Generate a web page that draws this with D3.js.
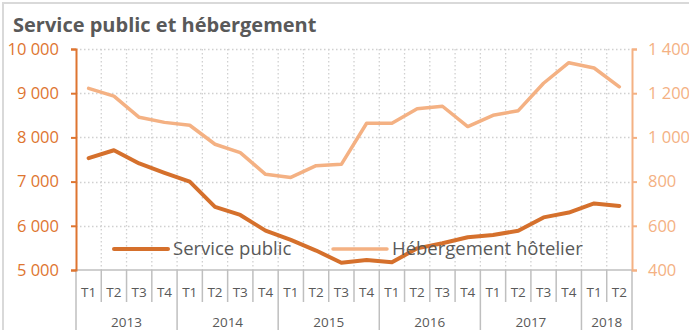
<!DOCTYPE html>
<html>
<head>
<meta charset="utf-8">
<script src="https://cdn.jsdelivr.net/npm/d3@7"></script>
<style>
  html, body { margin: 0; padding: 0; background: #fff; }
  svg { display: block; font-family: "Open Sans", "Noto Sans", sans-serif; }
</style>
</head>
<body>
<svg id="chart" width="689" height="330"></svg>
<script>
// Quarterly series, 2013 T1 to 2018 T2
const years = ["2013", "2014", "2015", "2016", "2017", "2018"];
const quarters = ["T1", "T2", "T3", "T4"];
const periods = years.flatMap(y => quarters.map(q => y + "-" + q)).slice(0, 22);

const servicePublic = [7530, 7710, 7410, 7200, 7000, 6430, 6245, 5890,
                       5680, 5440, 5165, 5225, 5175, 5490, 5605, 5740,
                       5790, 5890, 6190, 6300, 6505, 6450];
const hebergement = [1222, 1187, 1091, 1068, 1055, 969, 931, 833,
                     819, 872, 878, 1064, 1064, 1130, 1141, 1049,
                     1100, 1121, 1245, 1338, 1314, 1229];

const leftTicks = [5000, 6000, 7000, 8000, 9000, 10000];
const rightTicks = [400, 600, 800, 1000, 1200, 1400];
const seriesNames = ["Service public", "Hébergement hôtelier"];
const title = "Service public et hébergement";

// French-style thousands separator
const fmt = v => d3.format(",")(v).replace(/,/g, " ");

const colDark = "#D5702C";
const colLight = "#F4B183";
const colAxisL = "#DE7530";
const colGrid = "#D0D0D0";
const colText = "#595959";

const svg = d3.select("#chart");
const L = 76, R = 632, T = 49, B = 270;

const x = d3.scaleBand().domain(periods).range([L, R]).padding(0);
const yL = d3.scaleLinear().domain([5000, 10000]).range([B, T]);
const yR = d3.scaleLinear().domain([400, 1400]).range([B, T]);

// chart frame (top and left edges)
svg.append("path")
  .attr("d", `M3,${330} V3 H689`)
  .attr("fill", "none").attr("stroke", "#D9D9D9").attr("stroke-width", 2);

// title
svg.append("text")
  .attr("x", 13).attr("y", 32)
  .attr("font-size", 20).attr("font-weight", 700)
  .attr("fill", colText)
  .text(title);

// horizontal dotted grid
svg.append("g").selectAll("line")
  .data(leftTicks.filter(d => d > 5000))
  .join("line")
  .attr("x1", L).attr("x2", R)
  .attr("y1", d => Math.round(yL(d)) + 0.5).attr("y2", d => Math.round(yL(d)) + 0.5)
  .attr("stroke", colGrid).attr("stroke-width", 1.3).attr("stroke-dasharray", "1.5,2.5");

// vertical dotted grid at quarter boundaries
const bounds = d3.range(1, periods.length).map(i => x(periods[i]));
svg.append("g").selectAll("line")
  .data(bounds)
  .join("line")
  .attr("x1", d => d).attr("x2", d => d)
  .attr("y1", T).attr("y2", B)
  .attr("stroke", colGrid).attr("stroke-width", 1.3).attr("stroke-dasharray", "1.5,2.5");

// category axis: quarter row and year row
const allBounds = d3.range(0, periods.length + 1).map(i => i < periods.length ? x(periods[i]) : R);
const xAxis = svg.append("g");
xAxis.selectAll("line.q")
  .data(allBounds)
  .join("line")
  .attr("class", "q")
  .attr("x1", d => d).attr("x2", d => d)
  .attr("y1", B).attr("y2", (d, i) => (i % 4 === 0 || i === periods.length) ? 330 : 302)
  .attr("stroke", "#BFBFBF").attr("stroke-width", 1.5);
xAxis.append("line")
  .attr("x1", L - 1).attr("x2", R).attr("y1", B).attr("y2", B)
  .attr("stroke", "#BFBFBF").attr("stroke-width", 1.5);
xAxis.selectAll("text.q")
  .data(periods)
  .join("text")
  .attr("class", "q")
  .attr("x", d => x(d) + x.bandwidth() / 2)
  .attr("y", 297)
  .attr("text-anchor", "middle")
  .attr("font-size", 13.5).attr("fill", colText)
  .text(d => d.split("-")[1]);
xAxis.selectAll("text.y")
  .data(years)
  .join("text")
  .attr("class", "y")
  .attr("x", yr => {
    const ps = periods.filter(p => p.startsWith(yr));
    const a = x(ps[0]), b = x(ps[ps.length - 1]) + x.bandwidth();
    return (a + b) / 2;
  })
  .attr("y", 327)
  .attr("text-anchor", "middle")
  .attr("font-size", 13.5).attr("fill", colText)
  .text(d => d);

// left value axis
const axL = svg.append("g").attr("transform", `translate(${L},0)`)
  .call(d3.axisLeft(yL).tickValues(leftTicks).tickSize(5).tickPadding(12).tickFormat(fmt));
axL.select(".domain").attr("stroke", colAxisL).attr("stroke-width", 2);
axL.selectAll(".tick line").attr("stroke", colAxisL).attr("stroke-width", 2);
axL.selectAll(".tick text").attr("fill", colAxisL).attr("font-size", 16.5)
  .attr("font-family", "'Open Sans', sans-serif");

// right value axis
const axR = svg.append("g").attr("transform", `translate(${R},0)`)
  .call(d3.axisRight(yR).tickValues(rightTicks).tickSize(5).tickPadding(11).tickFormat(fmt));
axR.select(".domain").attr("stroke", colLight).attr("stroke-width", 2);
axR.selectAll(".tick line").attr("stroke", colLight).attr("stroke-width", 2);
axR.selectAll(".tick text").attr("fill", colLight).attr("font-size", 16.5)
  .attr("font-family", "'Open Sans', sans-serif");

// series lines
const cx = d => x(d) + x.bandwidth() / 2;
const lineL = d3.line().x((d, i) => cx(periods[i])).y(d => yL(d));
const lineR = d3.line().x((d, i) => cx(periods[i])).y(d => yR(d));

svg.append("path").datum(hebergement)
  .attr("d", lineR).attr("fill", "none")
  .attr("stroke", colLight).attr("stroke-width", 3.5)
  .attr("stroke-linejoin", "round").attr("stroke-linecap", "round");
svg.append("path").datum(servicePublic)
  .attr("d", lineL).attr("fill", "none")
  .attr("stroke", colDark).attr("stroke-width", 4)
  .attr("stroke-linejoin", "round").attr("stroke-linecap", "round");

// legend
const legend = [
  { name: seriesNames[0], color: colDark, x0: 114, width: 4 },
  { name: seriesNames[1], color: colLight, x0: 333, width: 3.5 }
];
const lg = svg.append("g").selectAll("g").data(legend).join("g");
lg.append("line")
  .attr("x1", d => d.x0).attr("x2", d => d.x0 + 54)
  .attr("y1", 249).attr("y2", 249)
  .attr("stroke", d => d.color).attr("stroke-width", d => d.width)
  .attr("stroke-linecap", "round");
lg.append("text")
  .attr("x", d => d.x0 + 59).attr("y", 249)
  .attr("dy", "0.35em")
  .attr("font-size", 18.5).attr("fill", colText)
  .text(d => d.name);
</script>
</body>
</html>
